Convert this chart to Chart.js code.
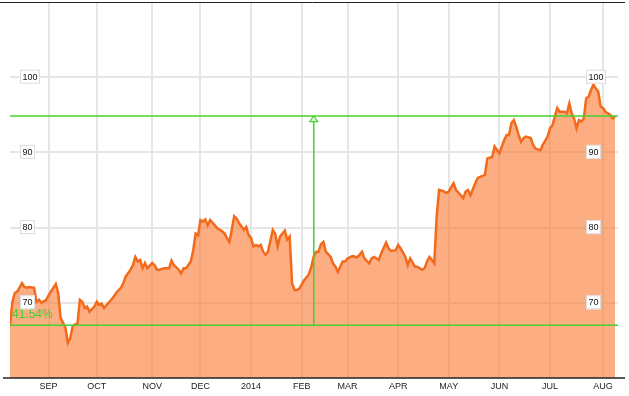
<!DOCTYPE html>
<html>
<head>
<meta charset="utf-8">
<script src="https://cdn.jsdelivr.net/npm/chart.js@4.4.0/dist/chart.umd.min.js"></script>
<style>
  html, body { margin: 0; padding: 0; background: #fff; }
</style>
</head>
<body>
<canvas id="priceChart" width="629" height="396"></canvas>
<script>
// trading session index (0 = first session shown) and closing price
const sessions = [
    0, 1, 2, 3, 5, 6, 7, 8, 10, 11, 12, 13, 15, 16, 17, 19, 20, 21, 23, 24,
    25, 26, 28, 29, 30, 31, 32, 33, 35, 36, 37, 38, 39, 40, 42, 43, 44, 46, 47, 48,
    50, 51, 52, 53, 54, 55, 56, 57, 59, 60, 61, 62, 64, 66, 67, 68, 70, 71, 72, 73,
    75, 76, 77, 78, 79, 80, 81, 82, 83, 85, 86, 88, 89, 90, 91, 92, 93, 94, 95, 97,
    98, 99, 100, 101, 102, 103, 104, 105, 106, 107, 109, 110, 111, 112, 113, 114, 115, 116, 117, 118,
    119, 120, 122, 124, 125, 126, 127, 128, 129, 130, 131, 133, 134, 135, 136, 138, 139, 140, 142, 144,
    145, 146, 147, 149, 150, 151, 153, 154, 156, 157, 158, 160, 161, 162, 164, 165, 166, 168, 169, 171,
    172, 173, 174, 175, 176, 177, 178, 180, 181, 182, 184, 185, 187, 188, 189, 190, 191, 193, 194, 197,
    198, 200, 201, 202, 203, 205, 206, 207, 208, 209, 210, 211, 212, 213, 214, 216, 217, 218, 220, 221,
    223, 224, 225, 226, 227, 228, 230, 231, 232, 233, 234, 235, 236, 237, 238, 239, 240, 241, 242, 243,
    244, 245, 246, 247, 249, 250, 251
];
const prices = [
    67.0, 70.15, 71.3, 71.5, 72.6, 72.1, 72.0, 72.1, 72.0, 70.15, 70.4, 70.0, 70.4, 71.0, 71.5, 72.5, 71.3, 68.0, 66.65, 64.65,
    65.3, 66.9, 67.3, 70.4, 70.15, 69.3, 69.5, 68.8, 69.5, 70.15, 69.7, 69.9, 69.3, 69.7, 70.4, 70.8, 71.3, 72.0, 72.6, 73.5,
    74.4, 75.0, 76.1, 75.5, 75.7, 74.6, 75.3, 74.6, 75.3, 75.0, 74.4, 74.4, 74.6, 74.6, 75.6, 75.0, 74.4, 73.9, 74.6, 74.6,
    75.5, 77.0, 79.2, 79.0, 81.0, 80.8, 81.1, 80.3, 81.0, 80.3, 79.9, 79.5, 79.2, 78.6, 78.1, 79.7, 81.5, 81.2, 80.6, 79.7,
    80.1, 79.0, 78.6, 77.5, 77.7, 77.5, 77.7, 76.8, 76.4, 76.8, 79.7, 79.2, 77.5, 78.8, 79.2, 79.6, 78.4, 78.8, 72.6, 71.7,
    71.7, 71.9, 73.0, 73.8, 74.8, 76.2, 76.8, 76.8, 77.8, 78.1, 76.8, 76.1, 75.25, 74.8, 74.1, 75.5, 75.5, 75.9, 76.2, 76.05,
    76.4, 76.8, 75.9, 75.25, 75.9, 76.1, 75.7, 76.6, 78.0, 77.25, 76.9, 77.0, 77.7, 77.25, 76.1, 75.0, 75.9, 74.8, 74.8, 74.4,
    74.6, 75.5, 76.1, 75.7, 75.25, 81.6, 85.0, 84.8, 84.6, 84.8, 85.9, 85.0, 84.3, 83.9, 84.8, 85.0, 84.3, 85.9, 86.6, 87.0,
    89.2, 89.4, 90.8, 90.3, 89.9, 91.65, 92.3, 92.3, 93.9, 94.3, 93.4, 92.3, 91.4, 91.9, 92.1, 91.9, 91.0, 90.5, 90.3, 91.0,
    92.1, 93.2, 93.6, 94.75, 95.9, 95.4, 95.4, 95.2, 96.5, 95.2, 94.5, 93.2, 94.3, 94.1, 94.5, 97.2, 97.4, 98.3, 99.0, 98.5,
    98.1, 96.1, 95.9, 95.4, 95.0, 94.5, 94.83
];

// month ticks sit on the first session of each month
const monthSessions = [16, 36, 59, 79, 100, 121, 140, 161, 182, 203, 224, 246];
const monthLabels = ['SEP', 'OCT', 'NOV', 'DEC', '2014', 'FEB', 'MAR', 'APR', 'MAY', 'JUN', 'JUL', 'AUG'];
const priceTicks = [70, 80, 90, 100];

// session where the measuring arrow was dropped
const markerSession = 126;

const FONT = '"Liberation Sans", Arial, sans-serif';
const GREEN = '#47d22f';

// price boxes, measure lines and frame lines
const overlay = {
    id: 'overlay',
    afterDatasetsDraw(chart) {
        const { ctx, chartArea: a, scales: { x, y } } = chart;
        const first = prices[0];
        const last = prices[prices.length - 1];
        const yLo = y.getPixelForValue(first);
        const yHi = y.getPixelForValue(last);
        const xm = x.getPixelForValue(markerSession);

        ctx.save();
        ctx.strokeStyle = GREEN;
        ctx.lineWidth = 1.5;
        ctx.beginPath();
        ctx.moveTo(a.left, yHi); ctx.lineTo(a.right, yHi);
        ctx.moveTo(a.left, yLo); ctx.lineTo(a.right, yLo);
        ctx.moveTo(xm, yLo); ctx.lineTo(xm, yHi + 5);
        ctx.stroke();

        // open arrow head
        ctx.lineWidth = 1.2;
        ctx.beginPath();
        ctx.moveTo(xm, yHi);
        ctx.lineTo(xm - 4, yHi + 5.5);
        ctx.lineTo(xm + 4, yHi + 5.5);
        ctx.closePath();
        ctx.fillStyle = '#fff';
        ctx.fill();
        ctx.stroke();

        // percent change
        const pct = ((last / first - 1) * 100).toFixed(2) + '%';
        ctx.fillStyle = '#44cc33';
        ctx.font = '12px ' + FONT;
        ctx.textAlign = 'left';
        ctx.textBaseline = 'alphabetic';
        ctx.fillText(pct, a.left + 2, yLo - 7);

        // price labels on both sides
        ctx.font = '9px ' + FONT;
        ctx.textBaseline = 'middle';
        priceTicks.forEach(v => {
            const py = y.getPixelForValue(v) - 0.5;
            const txt = String(v);
            const w = ctx.measureText(txt).width + 5;
            [a.left + 10, a.right - 32].forEach(bx => {
                ctx.fillStyle = '#fff';
                ctx.fillRect(bx, py - 7, w, 14);
                ctx.strokeStyle = '#dcdcdc';
                ctx.lineWidth = 1;
                ctx.strokeRect(bx + 0.5, py - 6.5, w - 1, 13);
                ctx.fillStyle = '#111';
                ctx.fillText(txt, bx + 2.5, py + 0.5);
            });
        });

        // frame lines
        ctx.strokeStyle = '#222';
        ctx.lineWidth = 1;
        ctx.beginPath();
        ctx.moveTo(0, 2.5); ctx.lineTo(625, 2.5);
        ctx.stroke();
        ctx.lineWidth = 1.5;
        ctx.beginPath();
        ctx.moveTo(3, a.bottom); ctx.lineTo(625, a.bottom);
        ctx.stroke();
        ctx.restore();
    }
};

new Chart(document.getElementById('priceChart'), {
    type: 'line',
    data: {
        datasets: [{
            data: sessions.map((s, i) => ({ x: s, y: prices[i] })),
            borderColor: '#f26a1b',
            borderWidth: 2.5,
            backgroundColor: 'rgba(251, 118, 46, 0.6)',
            fill: 'start',
            pointRadius: 0,
            tension: 0
        }]
    },
    options: {
        responsive: false,
        animation: false,
        layout: { padding: { left: 10, right: 11, top: 2, bottom: 0 } },
        plugins: {
            legend: { display: false },
            tooltip: { enabled: false }
        },
        scales: {
            x: {
                type: 'linear',
                min: 0,
                max: 252.2,
                afterBuildTicks: s => { s.ticks = monthSessions.map(v => ({ value: v })); },
                afterFit: s => { s.height = 18; },
                ticks: {
                    autoSkip: false,
                    maxRotation: 0,
                    padding: 3,
                    color: '#222',
                    font: { size: 9, family: FONT },
                    callback: v => monthLabels[monthSessions.indexOf(v)]
                },
                grid: { color: '#e6e6e6', lineWidth: 2, drawTicks: false },
                border: { display: false }
            },
            y: {
                min: 60,
                max: 110,
                afterBuildTicks: s => { s.ticks = priceTicks.map(v => ({ value: v })); },
                afterFit: s => { s.width = 0; },
                ticks: { display: false },
                grid: { color: '#e6e6e6', lineWidth: 2, drawTicks: false },
                border: { display: false }
            }
        }
    },
    plugins: [overlay]
});
</script>
</body>
</html>
